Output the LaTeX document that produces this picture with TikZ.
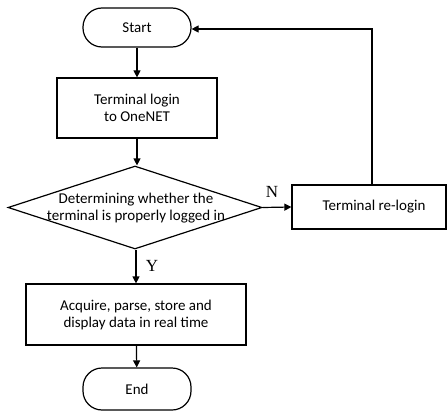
\documentclass[tikz,border=0pt]{standalone}
\usepackage{fontspec}
\setmainfont{Carlito}
\newfontfamily\serifN{Liberation Serif}
\usetikzlibrary{arrows.meta,shapes.geometric}
\begin{document}
\begin{tikzpicture}[x=1pt,y=-1pt,
  every node/.style={font=\fontsize{15}{17}\selectfont},
  lw/.style={line width=1.2pt},
  term/.style={lw,draw,rounded corners=19pt,minimum width=108pt,align=center,inner sep=0pt},
  proc/.style={lw,draw,align=center,inner sep=0pt},
  arr/.style={lw,-{Triangle[length=7pt,width=7pt]}},
  lbl/.style={font=\serifN\fontsize{17}{17}\selectfont}]
\useasboundingbox (0,0) rectangle (447,412);
\node[term,minimum height=39pt] (start) at (137,27.5) {Start};
\node[proc,minimum width=160pt,minimum height=60pt] (login) at (137,108) {Terminal login\\to OneNET};
\node[lw,draw,diamond,aspect=3.06,inner sep=0pt,minimum width=254pt,minimum height=83pt] (dec) at (135,207.5) {};
\node[align=center] (dectext) at (136,208) {Determining whether the\\terminal is properly logged in};
\node[proc,minimum width=154pt,minimum height=44pt] (relog) at (369,207) {};
\node (relogtext) at (374,207) {Terminal re-login};
\node[proc,minimum width=220pt,minimum height=61pt] (acq) at (136,314.5) {Acquire, parse, store and\\display data in real time};
\node[term,minimum height=42pt] (end) at (137,389) {End};
\node[lbl] (N) at (272,192) {N};
\node[lbl] (Y) at (152,266) {Y};
\coordinate (up) at (372,29);
\draw[arr] (start) -- (login);
\draw[arr] (login) -- (dec.north -| login);
\draw[arr] (dec.east) -- (relog.west);
\draw[arr] (relog.north -| up) -- (up) -- (start.east |- up);
\draw[arr] (dec.south -| acq) -- (acq);
\draw[arr] (acq) -- (end);
\end{tikzpicture}
\end{document}
